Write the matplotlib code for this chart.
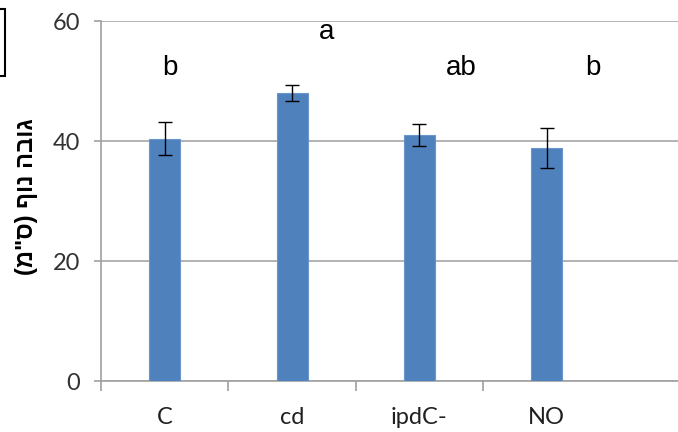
import matplotlib.pyplot as plt
from matplotlib.patches import Rectangle
from matplotlib.ticker import FixedLocator

treatments = ["C", "cd", "ipdC-", "NO"]
height = [40.4, 48.0, 41.0, 38.8]
err = [2.8, 1.3, 1.8, 3.3]

# significance letters and where they sit
letters = ["b", "a", "ab", "b"]
letter_x = [0.04, 1.27, 2.33, 3.36]
letter_y = [52.2, 58.2, 52.2, 52.2]

ylabel = "(מ\"ס) ףונ הבוג"  # visual order, matplotlib draws left to right

blue = "#4F81BD"
axis_gray = "#A0A0A0"

fig = plt.figure(figsize=(6.78, 4.32), dpi=100)
ax = fig.add_axes([101 / 678, 1 - 381 / 432, 1 - 101 / 678, 360 / 432])

xs = range(len(treatments))
ax.bar(xs, height, width=0.243, color=blue, edgecolor="#6A96CC", linewidth=0.8, zorder=3)
ax.errorbar(xs, height, yerr=err, fmt="none", ecolor="black", elinewidth=1,
            capsize=4.7, capthick=1, zorder=4)

for x, y, t in zip(letter_x, letter_y, letters):
    ax.text(x, y, t, ha="center", va="center", fontsize=20,
            family="Liberation Sans", color="black")

ax.set_xlim(-0.5, 4.03)
ax.set_ylim(0, 60)
ax.yaxis.set_major_locator(FixedLocator([0, 20, 40, 60]))
ax.xaxis.set_major_locator(FixedLocator(list(xs)))
ax.set_xticklabels(treatments)
ax.xaxis.set_minor_locator(FixedLocator([-0.5, 0.5, 1.5, 2.5]))

ax.grid(True, axis="y", color="#A6A6A6", linewidth=1.2, zorder=0)
ax.set_axisbelow(True)
for s in ["top", "right"]:
    ax.spines[s].set_visible(False)
for s in ["left", "bottom"]:
    ax.spines[s].set_color(axis_gray)
    ax.spines[s].set_linewidth(1.2)

ax.tick_params(axis="y", direction="out", length=5, width=1.2, color=axis_gray,
               pad=10, labelsize=17, labelcolor="#333333")
ax.tick_params(axis="x", which="major", length=0, pad=19, labelsize=17,
               labelcolor="#202020")
ax.tick_params(axis="x", which="minor", direction="out", length=7, width=1.2,
               color=axis_gray)
for lab in ax.get_xticklabels() + ax.get_yticklabels():
    lab.set_family(["Lato", "DejaVu Sans"])

fig.text(27 / 678, 1 - 197 / 432, ylabel, rotation=90, ha="center", va="center",
         fontsize=17, fontweight="bold", family=["Liberation Sans", "DejaVu Sans"])

# edge of the legend box on the left
fig.patches.append(Rectangle((-10 / 678, 1 - 76 / 432), 15 / 678, 67 / 432,
                             transform=fig.transFigure, fill=False,
                             edgecolor="black", linewidth=1.5))

fig.savefig("out.png", dpi=100)
